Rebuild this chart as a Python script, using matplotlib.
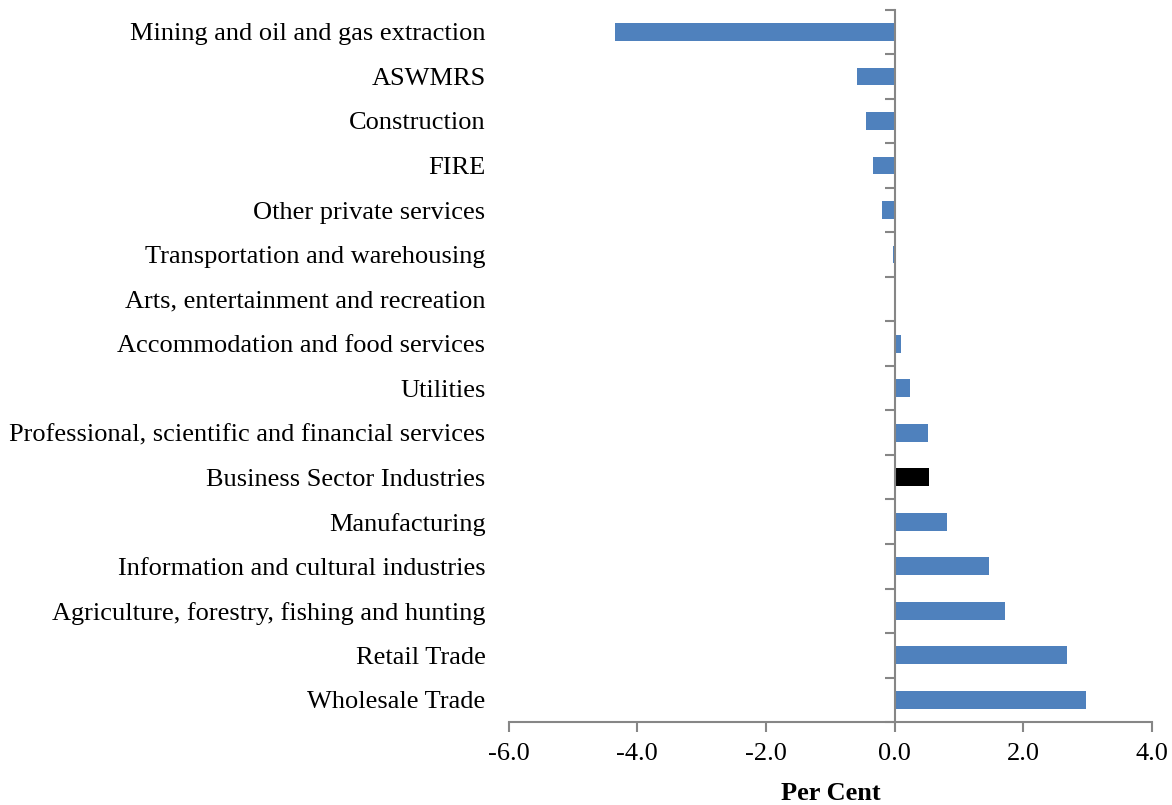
import numpy as np
import matplotlib.pyplot as plt
from matplotlib.transforms import blended_transform_factory

plt.rcParams['font.family'] = ['Liberation Serif', 'DejaVu Serif']

industries = [
    "Mining and oil and gas extraction",
    "ASWMRS",
    "Construction",
    "FIRE",
    "Other private services",
    "Transportation and warehousing",
    "Arts, entertainment and recreation",
    "Accommodation and food services",
    "Utilities",
    "Professional, scientific and financial services",
    "Business Sector Industries",
    "Manufacturing",
    "Information and cultural industries",
    "Agriculture, forestry, fishing and hunting",
    "Retail Trade",
    "Wholesale Trade",
]
values = [-4.34, -0.59, -0.44, -0.34, -0.20, -0.03, -0.01, 0.10, 0.24,
          0.52, 0.53, 0.82, 1.46, 1.72, 2.67, 2.98]
highlight = "Business Sector Industries"

blue = "#4F81BD"
grey = "#868686"
fs = 19

fig = plt.figure(figsize=(11.72, 8.05), dpi=100)
ax = fig.add_axes([0.434, 0.103, 0.549, 0.885])

n = len(industries)
ypos = np.arange(n)[::-1]
colors = ["black" if c == highlight else blue for c in industries]
ax.barh(ypos, values, height=0.4, color=colors, linewidth=0)

ax.set_xlim(-6, 4)
ax.set_ylim(-0.5, n - 0.5)
ax.set_xticks(np.arange(-6, 4.1, 2))
ax.set_xticklabels([f"{t:.1f}" for t in np.arange(-6, 4.1, 2)], fontsize=fs)
ax.tick_params(axis='x', direction='out', length=7, width=1.5, color=grey, pad=8)

for s in ['top', 'right']:
    ax.spines[s].set_visible(False)
ax.spines['bottom'].set_color(grey)
ax.spines['bottom'].set_linewidth(1.5)
ax.spines['left'].set_position(('data', 0))
ax.spines['left'].set_color(grey)
ax.spines['left'].set_linewidth(1.5)

# ticks on the zero line at category boundaries
ax.set_yticks(np.arange(-0.5, n, 1))
ax.set_yticklabels([])
ax.tick_params(axis='y', direction='out', length=7, width=1.5, color=grey)

trans = blended_transform_factory(ax.transAxes, ax.transData)
for y, name in zip(ypos, industries):
    ax.text(-0.036, y, name, transform=trans, ha='right', va='center_baseline', fontsize=fs)

ax.set_xlabel("Per Cent", fontsize=fs, fontweight='bold', labelpad=12)

fig.savefig("out.png", dpi=100)
